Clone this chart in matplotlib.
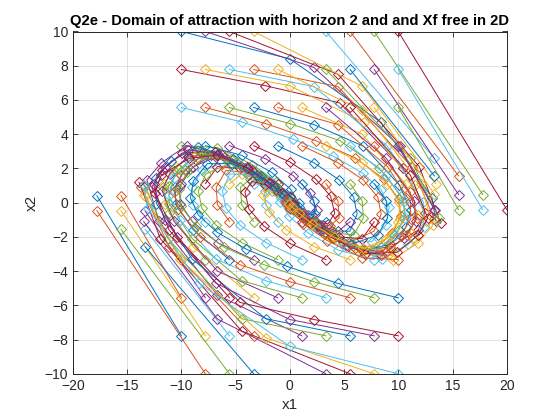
import matplotlib

matplotlib.use("Agg")
import matplotlib.pyplot as plt
import numpy as np

# MATLAB default colour order
matlab_colors = ["#0072BD", "#D95319", "#EDB120", "#7E2F8E", "#77AC30", "#4DBEEE", "#A2142F"]

title_text = "Q2e - Domain of attraction with horizon 2 and and Xf free in 2D"
x_ticks = [-20, -15, -10, -5, 0, 5, 10, 15, 20]
y_ticks = [-10, -8, -6, -4, -2, 0, 2, 4, 6, 8, 10]

# closed-loop trajectories, grouped by the x1 of the starting point (ascending x2)
col_x_m10 = [
    [(-10, -7.78), (-17.78, 0.41)],
    [(-10, -5.56), (-15.56, 0.41)],
    [(-10, -3.33), (-13.33, 0.41)],
    [(-10, 1.11), (-8.89, 2.11), (-6.78, 2.67), (-4.11, 2.03), (-2.08, 1.23), (-0.85, 0.62), (-0.23, 0.26), (0.03, 0.09)],
    [(-10, 3.33), (-6.67, 3.22), (-3.45, 2.22), (-1.23, 1.22), (-0.01, 0.37), (0.36, 0.0), (0.36, -0.11)],
    [(-10, 5.56), (-4.44, 4.72), (0.28, 3.72), (4.0, 2.72), (6.72, 1.72), (8.44, 0.72), (9.16, -0.28), (8.88, -1.28),
     (7.6, -2.28), (5.32, -2.28), (3.04, -1.6), (1.44, -0.91), (0.53, -0.43), (0.1, -0.16)],
    [(-10, 7.78), (-2.24, 6.83), (4.59, 5.83), (10.42, 2.03), (12.45, -0.59), (11.86, -1.59), (9.27, -2.59),
     (6.68, -2.78), (3.9, -2.0), (1.9, -1.17), (0.73, -0.57), (0.16, -0.22)],
    [(-10, 10), (0, 8.4), (8.4, 4.7), (13.1, 0.3), (13.45, -1.05)],
]

col_x_m778 = [
    [(-7.78, -10), (-17.78, -0.47)],
    [(-7.78, -7.78), (-15.56, -0.47)],
    [(-7.78, -5.56), (-13.33, -0.5)],
    [(-7.78, -3.33), (-11.11, -0.6), (-11.71, 0.9), (-10.81, 1.9), (-8.91, 2.9), (-6.01, 2.67), (-3.34, 1.8),
     (-1.54, 1.0), (-0.54, 0.46), (-0.08, 0.17)],
    [(-7.78, -1.11), (-8.89, -0.11), (-9.0, 0.89), (-8.11, 1.89), (-5.68, 2.43), (-3.25, 1.7), (-1.55, 0.98),
     (-0.57, 0.45), (-0.12, 0.18)],
    [(-7.78, 1.11), (-6.67, 2.11), (-4.56, 2.0), (-2.56, 1.37), (-1.19, 0.77), (-0.42, 0.36), (-0.06, 0.13)],
    [(-7.78, 3.33), (-4.45, 2.77), (-1.68, 1.77), (0.09, 0.77), (0.86, -0.03), (0.83, -0.26), (0.57, -0.26), (0.31, -0.17)],
    [(-7.78, 5.56), (-2.22, 4.62), (2.4, 3.62), (6.02, 2.62), (8.64, 1.39), (10.03, 0.21), (10.24, -0.79),
     (9.45, -1.79), (7.66, -2.79), (4.87, -2.3), (2.57, -1.46), (1.11, -0.77), (0.34, -0.33)],
    [(-7.78, 7.78), (0, 6.83), (6.83, 4.7), (11.53, 1.03), (12.56, -1.09), (11.47, -2.09), (9.38, -3.09),
     (6.29, -2.81), (3.48, -1.89), (1.59, -1.04), (0.55, -0.48), (0.07, -0.17)],
    [(-7.78, 10), (2.22, 7.9), (10.12, 3.3), (13.42, -0.45)],
]

col_x_m556 = [
    [(-5.56, -10), (-15.56, -1.56)],
    [(-5.56, -7.78), (-13.33, -1.56)],
    [(-5.56, -5.56), (-11.12, -1.6), (-12.72, 0.9), (-11.82, 1.9), (-9.92, 2.9), (-6.94, 2.98), (-3.96, 2.08),
     (-1.88, 1.19), (-0.69, 0.56), (-0.13, 0.2)],
    [(-5.56, -3.33), (-8.89, -1.6), (-10.49, -0.1), (-10.59, 0.9), (-9.69, 1.9), (-7.79, 2.9), (-4.89, 2.34),
     (-2.55, 1.47), (-1.08, 0.77), (-0.31, 0.33)],
    [(-5.56, -1.11), (-6.67, -0.11), (-6.78, 0.89), (-5.89, 1.89), (-4.12, 1.77), (-2.35, 1.24), (-1.11, 0.71),
     (-0.4, 0.34), (-0.06, 0.12)],
    [(-5.56, 1.11), (-4.45, 1.67), (-2.78, 1.34), (-1.44, 0.83), (-0.61, 0.43), (-0.18, 0.18)],
    [(-5.56, 3.33), (-2.24, 2.57), (0.33, 1.57), (1.9, 0.57), (2.47, -0.43), (2.04, -0.74), (1.3, -0.61),
     (0.69, -0.39), (0.3, -0.21)],
    [(-5.56, 5.56), (0, 4.62), (4.62, 3.62), (8.24, 2.02), (10.26, 0.39), (10.65, -0.61), (10.04, -1.61),
     (8.43, -2.61), (5.82, -2.53), (3.29, -1.75), (1.54, -0.99), (0.55, -0.46), (0.09, -0.17)],
    [(-5.56, 7.78), (2.22, 6.78), (9.0, 3.3), (12.3, 0.05), (12.35, -1.44), (10.91, -2.44), (8.47, -3.27),
     (5.2, -2.54), (2.66, -1.56), (1.1, -0.8), (0.3, -0.33)],
    [(-5.56, 10), (4.44, 7.5), (11.94, 2.1), (13.9, -1.2)],
]

col_x_m333 = [
    [(-3.33, -10), (-13.33, -2.58)],
    [(-3.33, -7.78), (-11.11, -2.6), (-13.71, 0.9)],
    [(-3.33, -5.56), (-8.89, -2.6), (-11.49, -0.1), (-11.59, 1.07), (-10.52, 2.07), (-8.45, 3.07), (-5.38, 2.54),
     (-2.84, 1.61), (-1.23, 0.85), (-0.38, 0.37)],
    [(-3.33, -3.33), (-6.66, -2.33), (-8.99, -1.1), (-10.09, -0.05), (-10.14, 0.95), (-9.19, 1.95), (-7.24, 2.76),
     (-4.48, 2.17), (-2.31, 1.34), (-0.97, 0.69), (-0.28, 0.29)],
    [(-3.33, -1.11), (-4.44, -0.11), (-4.55, 0.89), (-3.66, 1.37), (-2.29, 1.1), (-1.19, 0.69), (-0.5, 0.36), (-0.14, 0.15)],
    [(-3.33, 1.11), (-2.22, 1.0), (-1.22, 0.67), (-0.55, 0.37), (-0.18, 0.17)],
    [(-3.33, 3.33), (0, 2.38), (2.38, 1.38), (3.76, 0.38), (4.14, -0.62), (3.52, -1.24), (2.28, -1.06),
     (1.22, -0.68), (0.54, -0.37), (0.17, -0.16)],
    [(-3.33, 5.56), (2.23, 4.56), (6.79, 3.3), (10.09, 1.04), (11.13, -0.44), (10.69, -1.44), (9.25, -2.44),
     (6.81, -2.78), (4.03, -2.04), (1.99, -1.21), (0.78, -0.6), (0.18, -0.23)],
    [(-3.33, 7.78), (4.45, 6.78), (11.23, 2.1), (13.33, -0.95)],
    [(-3.33, 10), (6.67, 6.8), (13.47, 1.1)],
]

col_x_m111 = [
    [(-1.11, -5.56), (-6.67, -4.0), (-10.67, -1.1), (-11.77, 0.7), (-11.07, 1.7), (-9.37, 2.7), (-6.67, 2.81),
     (-3.86, 2.0), (-1.86, 1.16), (-0.7, 0.56), (-0.14, 0.21)],
    [(-1.11, -3.33), (-4.44, -2.33), (-6.77, -1.33), (-8.1, -0.33), (-8.43, 0.67), (-7.76, 1.67), (-5.43, 2.33),
     (-3.8, 1.63), (-2.17, 1.14), (-1.03, 0.65), (-0.38, 0.31)],
    [(-1.11, -1.11), (-2.22, -0.11), (-2.33, 0.67), (-1.66, 0.7), (-0.96, 0.5), (-0.46, 0.29), (-0.17, 0.14)],
    [(-1.11, 1.11), (0, 0.33), (0.33, 0.0), (0.33, -0.1)],
    [(-1.11, 3.33), (2.22, 2.33), (4.55, 1.33), (5.88, 0.33), (6.21, -0.67), (5.54, -1.67), (3.87, -1.66),
     (2.21, -1.16), (1.05, -0.66), (0.39, -0.32)],
    [(-1.11, 5.56), (4.45, 4.56), (9.01, 2.1), (11.11, 0.05), (11.16, -0.95), (10.21, -1.95), (8.26, -2.95),
     (5.31, -2.48), (2.83, -1.59), (1.24, -0.85), (0.39, -0.37)],
    [(-1.11, 7.78), (6.67, 5.4), (12.07, 1.1), (13.17, -1.33), (11.84, -2.33), (9.51, -3.33), (6.66, -2.85),
     (3.81, -2.0), (1.81, -1.14), (0.67, -0.54), (0.13, -0.2)],
]

col_x_111 = [
    [(1.11, -7.78), (-6.67, -5.4), (-12.07, -1.1), (-13.17, 1.33), (-11.84, 2.33), (-9.51, 3.33), (-6.66, 2.85),
     (-3.81, 2.0), (-1.81, 1.14), (-0.67, 0.54), (-0.13, 0.2)],
    [(1.11, -5.56), (-4.45, -4.56), (-9.01, -2.1), (-11.11, -0.05), (-11.16, 0.95), (-10.21, 1.95), (-8.26, 2.95),
     (-5.31, 2.48), (-2.83, 1.59), (-1.24, 0.85), (-0.39, 0.37)],
    [(1.11, -3.33), (-2.22, -2.33), (-4.55, -1.33), (-5.88, -0.33), (-6.21, 0.67), (-5.54, 1.67), (-3.87, 1.66),
     (-2.21, 1.16), (-1.05, 0.66), (-0.39, 0.32)],
    [(1.11, -1.11), (0, -0.33), (-0.33, 0.0), (-0.33, 0.1)],
    [(1.11, 1.11), (2.22, 0.11), (2.33, -0.67), (1.66, -0.7), (0.96, -0.5), (0.46, -0.29), (0.17, -0.14)],
    [(1.11, 3.33), (4.44, 2.33), (6.77, 1.33), (8.1, 0.33), (8.43, -0.67), (7.76, -1.67), (5.43, -2.33),
     (3.8, -1.63), (2.17, -1.14), (1.03, -0.65), (0.38, -0.31)],
    [(1.11, 5.56), (6.67, 4.0), (10.67, 1.1), (11.77, -0.7), (11.07, -1.7), (9.37, -2.7), (6.67, -2.81),
     (3.86, -2.0), (1.86, -1.16), (0.7, -0.56), (0.14, -0.21)],
]

col_x_333 = [
    [(3.33, -10), (-6.67, -6.8), (-13.47, -1.1)],
    [(3.33, -7.78), (-4.45, -6.78), (-11.23, -2.1), (-13.33, 0.95)],
    [(3.33, -5.56), (-2.23, -4.56), (-6.79, -3.3), (-10.09, -1.04), (-11.13, 0.44), (-10.69, 1.44), (-9.25, 2.44),
     (-6.81, 2.78), (-4.03, 2.04), (-1.99, 1.21), (-0.78, 0.6), (-0.18, 0.23)],
    [(3.33, -3.33), (0, -2.38), (-2.38, -1.38), (-3.76, -0.38), (-4.14, 0.62), (-3.52, 1.24), (-2.28, 1.06),
     (-1.22, 0.68), (-0.54, 0.37), (-0.17, 0.16)],
    [(3.33, -1.11), (2.22, -1.0), (1.22, -0.67), (0.55, -0.37), (0.18, -0.17)],
    [(3.33, 1.11), (4.44, 0.11), (4.55, -0.89), (3.66, -1.37), (2.29, -1.1), (1.19, -0.69), (0.5, -0.36), (0.14, -0.15)],
    [(3.33, 3.33), (6.66, 2.33), (8.99, 1.1), (10.09, 0.05), (10.14, -0.95), (9.19, -1.95), (7.24, -2.76),
     (4.48, -2.17), (2.31, -1.34), (0.97, -0.69), (0.28, -0.29)],
    [(3.33, 5.56), (8.89, 2.6), (11.49, 0.1), (11.59, -1.07), (10.52, -2.07), (8.45, -3.07), (5.38, -2.54),
     (2.84, -1.61), (1.23, -0.85), (0.38, -0.37)],
    [(3.33, 7.78), (11.11, 2.6), (13.71, -0.9)],
    [(3.33, 10), (13.33, 2.58)],
]

col_x_556 = [
    [(5.56, -10), (-4.44, -7.5), (-11.94, -2.1), (-13.9, 1.2)],
    [(5.56, -7.78), (-2.22, -6.78), (-9.0, -3.3), (-12.3, -0.05), (-12.35, 1.44), (-10.91, 2.44), (-8.47, 3.27),
     (-5.2, 2.54), (-2.66, 1.56), (-1.1, 0.8), (-0.3, 0.33)],
    [(5.56, -5.56), (0, -4.62), (-4.62, -3.62), (-8.24, -2.02), (-10.26, -0.39), (-10.65, 0.61), (-10.04, 1.61),
     (-8.43, 2.61), (-5.82, 2.53), (-3.29, 1.75), (-1.54, 0.99), (-0.55, 0.46), (-0.09, 0.17)],
    [(5.56, -3.33), (2.24, -2.57), (-0.33, -1.57), (-1.9, -0.57), (-2.47, 0.43), (-2.04, 0.74), (-1.3, 0.61),
     (-0.69, 0.39), (-0.3, 0.21)],
    [(5.56, -1.11), (4.45, -1.67), (2.78, -1.34), (1.44, -0.83), (0.61, -0.43), (0.18, -0.18)],
    [(5.56, 1.11), (6.67, 0.11), (6.78, -0.89), (5.89, -1.89), (4.12, -1.77), (2.35, -1.24), (1.11, -0.71),
     (0.4, -0.34), (0.06, -0.12)],
    [(5.56, 3.33), (8.89, 1.6), (10.49, 0.1), (10.59, -0.9), (9.69, -1.9), (7.79, -2.9), (4.89, -2.34),
     (2.55, -1.47), (1.08, -0.77), (0.31, -0.33)],
    [(5.56, 5.56), (11.12, 1.6), (12.72, -0.9), (11.82, -1.9), (9.92, -2.9), (6.94, -2.98), (3.96, -2.08),
     (1.88, -1.19), (0.69, -0.56), (0.13, -0.2)],
    [(5.56, 7.78), (13.33, 1.56)],
    [(5.56, 10), (15.56, 1.56)],
]

col_x_778 = [
    [(7.78, -10), (-2.22, -7.9), (-10.12, -3.3), (-13.42, 0.45)],
    [(7.78, -7.78), (0, -6.83), (-6.83, -4.7), (-11.53, -1.03), (-12.56, 1.09), (-11.47, 2.09), (-9.38, 3.09),
     (-6.29, 2.81), (-3.48, 1.89), (-1.59, 1.04), (-0.55, 0.48), (-0.07, 0.17)],
    [(7.78, -5.56), (2.22, -4.62), (-2.4, -3.62), (-6.02, -2.62), (-8.64, -1.39), (-10.03, -0.21), (-10.24, 0.79),
     (-9.45, 1.79), (-7.66, 2.79), (-4.87, 2.3), (-2.57, 1.46), (-1.11, 0.77), (-0.34, 0.33)],
    [(7.78, -3.33), (4.45, -2.77), (1.68, -1.77), (-0.09, -0.77), (-0.86, 0.03), (-0.83, 0.26), (-0.57, 0.26), (-0.31, 0.17)],
    [(7.78, -1.11), (6.67, -2.11), (4.56, -2.0), (2.56, -1.37), (1.19, -0.77), (0.42, -0.36), (0.06, -0.13)],
    [(7.78, 1.11), (8.89, 0.11), (9.0, -0.89), (8.11, -1.89), (5.68, -2.43), (3.25, -1.7), (1.55, -0.98),
     (0.57, -0.45), (0.12, -0.18)],
    [(7.78, 3.33), (11.11, 0.6), (11.71, -0.9), (10.81, -1.9), (8.91, -2.9), (6.01, -2.67), (3.34, -1.8),
     (1.54, -1.0), (0.54, -0.46), (0.08, -0.17)],
    [(7.78, 5.56), (13.33, 0.5)],
    [(7.78, 7.78), (15.56, 0.47)],
    [(7.78, 10), (17.78, 0.47)],
]

col_x_10 = [
    [(10, -10), (0, -8.4), (-8.4, -4.7), (-13.1, -0.3), (-13.45, 1.05)],
    [(10, -7.78), (2.24, -6.83), (-4.59, -5.83), (-10.42, -2.03), (-12.45, 0.59), (-11.86, 1.59), (-9.27, 2.59),
     (-6.68, 2.78), (-3.9, 2.0), (-1.9, 1.17), (-0.73, 0.57), (-0.16, 0.22)],
    [(10, -5.56), (4.44, -4.72), (-0.28, -3.72), (-4.0, -2.72), (-6.72, -1.72), (-8.44, -0.72), (-9.16, 0.28),
     (-8.88, 1.28), (-7.6, 2.28), (-5.32, 2.28), (-3.04, 1.6), (-1.44, 0.91), (-0.53, 0.43), (-0.1, 0.16)],
    [(10, -3.33), (6.67, -3.22), (3.45, -2.22), (1.23, -1.22), (0.01, -0.37), (-0.36, 0.0), (-0.36, 0.11)],
    [(10, -1.11), (8.89, -2.11), (6.78, -2.67), (4.11, -2.03), (2.08, -1.23), (0.85, -0.62), (0.23, -0.26), (-0.03, -0.09)],
    [(10, 3.33), (13.33, -0.41)],
    [(10, 5.56), (15.56, -0.41)],
    [(10, 7.78), (17.78, -0.41)],
    [(10, 10), (20, -0.41)],
]

columns = [col_x_m10, col_x_m778, col_x_m556, col_x_m333, col_x_m111,
           col_x_111, col_x_333, col_x_556, col_x_778, col_x_10]

plt.rcParams["font.family"] = ["Liberation Sans", "DejaVu Sans"]

fig = plt.figure(figsize=(5.6, 4.2), dpi=100)
ax = fig.add_axes([0.13, 0.11, 0.775, 0.815])
ax.set_prop_cycle(color=matlab_colors)

for col in columns:
    for traj in col:
        pts = np.array(traj)
        ax.plot(pts[:, 0], pts[:, 1], "-", marker="D", mfc="none",
                ms=5, lw=0.7, mew=0.7)

ax.set_xlim(-20, 20)
ax.set_ylim(-10, 10)
ax.set_xticks(x_ticks)
ax.set_yticks(y_ticks)
ax.grid(True, color="#262626", alpha=0.15, lw=0.6)
ax.set_axisbelow(True)
ax.tick_params(direction="in", length=3.5, width=0.6, colors="#262626", labelsize=10,
               top=True, right=True)
for sp in ax.spines.values():
    sp.set_color("#262626")
    sp.set_linewidth(0.7)

ax.set_xlabel("x1", fontsize=11, color="#262626")
ax.set_ylabel("x2", fontsize=11, color="#262626")
ax.set_title(title_text, fontsize=10.6, fontweight="bold", color="black", pad=5)

fig.savefig("out.png", dpi=100)
